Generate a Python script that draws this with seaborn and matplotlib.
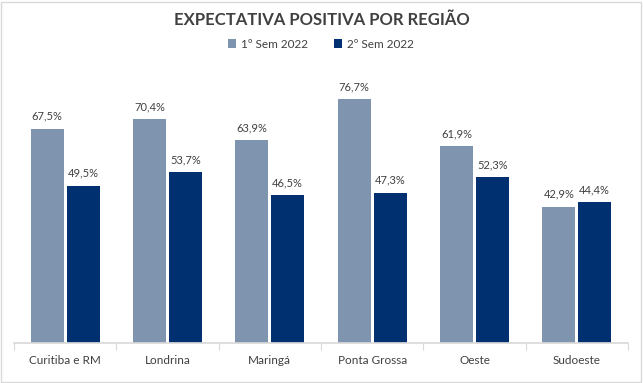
import pandas as pd
import matplotlib.pyplot as plt
import seaborn as sns
from matplotlib.patches import Rectangle

regioes = ["Curitiba e RM", "Londrina", "Maringá", "Ponta Grossa", "Oeste", "Sudoeste"]
sem1 = [67.5, 70.4, 63.9, 76.7, 61.9, 42.9]
sem2 = [49.5, 53.7, 46.5, 47.3, 52.3, 44.4]
series = ["1º Sem 2022", "2º Sem 2022"]

df = pd.DataFrame({
    "regiao": regioes * 2,
    "valor": sem1 + sem2,
    "periodo": [series[0]] * len(regioes) + [series[1]] * len(regioes),
})

sns.set_theme(style="white")
plt.rcParams["font.family"] = ["Lato", "DejaVu Sans"]
txt = "#404040"

fig = plt.figure(figsize=(6.43, 3.83), dpi=100)
ax = fig.add_axes([14 / 643, 40 / 383, 614 / 643, 270 / 383])

sns.barplot(data=df, x="regiao", y="valor", hue="periodo", order=regioes,
            hue_order=series, palette=["#7F94AF", "#00306F"], saturation=1,
            width=0.7, gap=0.08, linewidth=0, ax=ax)

# value labels
for cont in ax.containers:
    ax.bar_label(cont, labels=[f"{v:.1f}%".replace(".", ",") for v in cont.datavalues],
                 padding=5, fontsize=8, color=txt)

ax.set_ylim(0, 85)
ax.set_xlim(-0.5, len(regioes) - 0.5)
ax.set_xlabel("")
ax.set_ylabel("")
ax.set_yticks([])
for s in ["top", "right", "left"]:
    ax.spines[s].set_visible(False)
ax.spines["bottom"].set_color("#D9D9D9")
ax.tick_params(axis="x", which="major", length=0, pad=9, labelsize=8.5, labelcolor=txt)
ax.set_xticks([i - 0.5 for i in range(len(regioes) + 1)], minor=True)
ax.tick_params(axis="x", which="minor", length=5, color="#D9D9D9", width=0.8, bottom=True)

ax.legend(loc="center", bbox_to_anchor=(0.5, (383 - 44 - 40) / 270), ncol=2, frameon=False,
          handlelength=0.7, handleheight=0.7, handletextpad=0.4, columnspacing=2.2,
          fontsize=8.5, labelcolor=txt)

fig.text(0.5, 1 - 20 / 383, "EXPECTATIVA POSITIVA POR REGIÃO", ha="center", va="center",
         fontsize=12, fontweight="bold", color=txt)

fig.patches.append(Rectangle((0.002, 0.003), 0.995, 0.993, transform=fig.transFigure,
                             fill=False, edgecolor="#D9D9D9", linewidth=1))

fig.savefig("out.png", dpi=100)
